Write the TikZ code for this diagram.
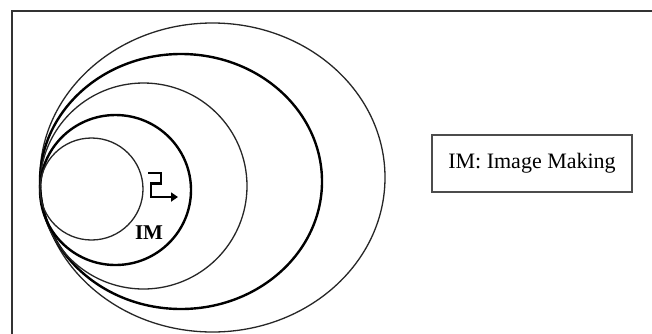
\documentclass[tikz,border=0pt]{standalone}
\usepackage{fontspec}
\setmainfont{Liberation Serif}
\usetikzlibrary{arrows.meta}
\begin{document}
\begin{tikzpicture}[x=1pt,y=-1pt,
  thinring/.style={draw=black!85, line width=1.3pt},
  thickring/.style={draw=black, line width=2.4pt},
  legendbox/.style={draw=black!70, line width=1.2pt, minimum width=200pt, minimum height=57pt, inner sep=0pt},
  turnarrow/.style={draw=black, line width=2.4pt, -{Triangle[length=7pt,width=9pt]}}]
\useasboundingbox (0,0) rectangle (652,333);
\fill[white] (0,0) rectangle (652,333);
% outer frame (top and left edges visible)
\draw[black!80, line width=2pt] (660,11) -- (12,11) -- (12,340);
% nested ellipses
\draw[thinring]  (212.5,177.5) ellipse [x radius=172.5, y radius=154.5];
\draw[thickring] (181,181.5) ellipse [x radius=141, y radius=127.5];
\draw[thinring]  (143.5,186) ellipse [x radius=103.5, y radius=103];
\draw[thickring] (115.5,190) ellipse [x radius=75.5, y radius=75];
\draw[thinring]  (91.5,189) ellipse [x radius=51.5, y radius=51];
% turning arrow
\coordinate (a0) at (148,173);
\coordinate (a5) at (178,197);
\draw[turnarrow] (a0) -- (161,173) -- (161,183.5) -- (151,183.5) -- (151,197) -- (a5);
% label
\node[font=\bfseries\fontsize{21}{24}\selectfont, inner sep=0pt] (im) at (149,233) {IM};
% legend
\node[legendbox, font=\fontsize{22}{25}\selectfont] (legend) at (532,163.5) {IM: Image Making};
\end{tikzpicture}
\end{document}
